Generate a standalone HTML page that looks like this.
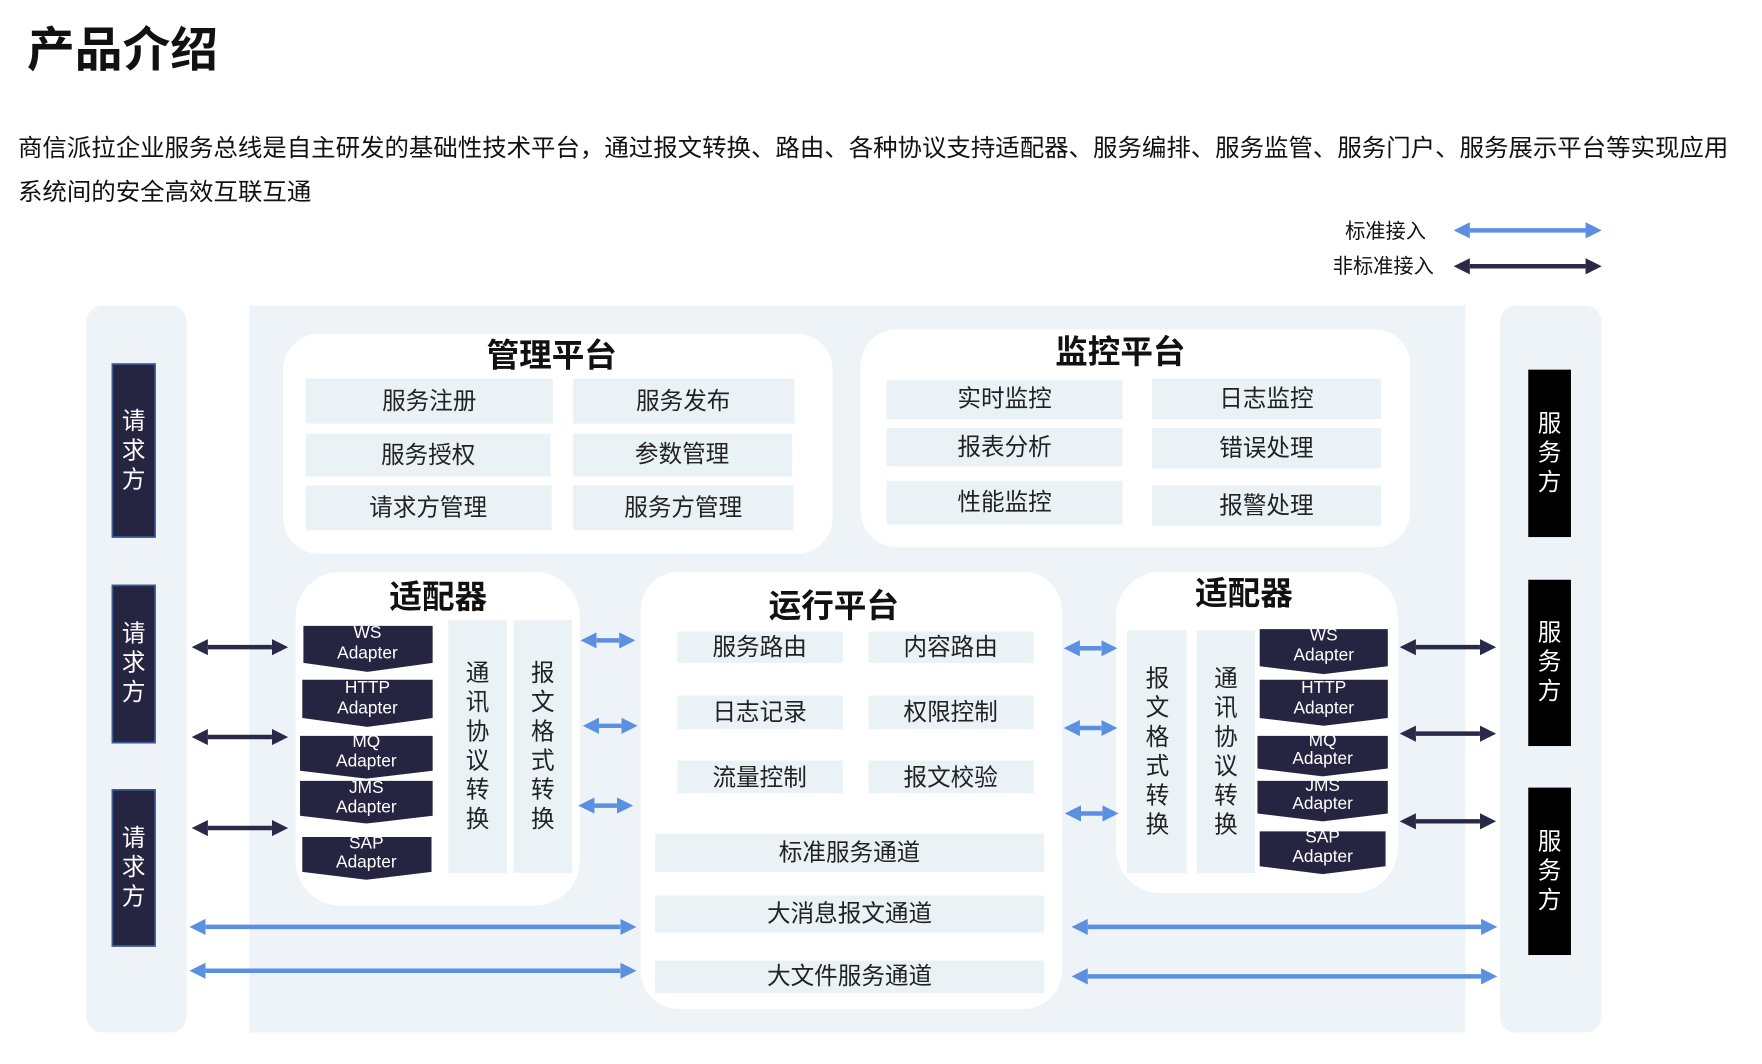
<!DOCTYPE html>
<html><head><meta charset="utf-8">
<style>
html,body{margin:0;padding:0;background:#fff;}
svg{display:block;font-family:"Liberation Sans","Noto Sans CJK SC",sans-serif;}
</style></head>
<body>
<svg width="1762" height="1064" viewBox="0 0 1568 947" preserveAspectRatio="none" xmlns="http://www.w3.org/2000/svg">
<defs>
<marker id="hb" viewBox="0 0 10 10" refX="0" refY="5" markerWidth="3.6" markerHeight="4.2" orient="auto-start-reverse" markerUnits="strokeWidth"><path d="M0,0 L10,5 L0,10 z" fill="#5b8fe0"/></marker>
<marker id="hd" viewBox="0 0 10 10" refX="0" refY="5" markerWidth="3.6" markerHeight="4.2" orient="auto-start-reverse" markerUnits="strokeWidth"><path d="M0,0 L10,5 L0,10 z" fill="#2a2a48"/></marker>
</defs>
<g fill="#111">
<text x="24" y="59" font-size="42.5" font-weight="bold">产品介绍</text>
<text x="16" y="139" font-size="21.5" textLength="1522" lengthAdjust="spacingAndGlyphs">商信派拉企业服务总线是自主研发的基础性技术平台，通过报文转换、路由、各种协议支持适配器、服务编排、服务监管、服务门户、服务展示平台等实现应用</text>
<text x="16" y="178" font-size="21.5" textLength="261" lengthAdjust="spacingAndGlyphs">系统间的安全高效互联互通</text>
<text x="1197" y="212" font-size="18">标准接入</text>
<text x="1186" y="243" font-size="18">非标准接入</text>
</g>
<line x1="1308" y1="205" x2="1411" y2="205" stroke="#5b8fe0" stroke-width="4" marker-start="url(#hb)" marker-end="url(#hb)"/>
<line x1="1308" y1="237" x2="1411" y2="237" stroke="#2a2a48" stroke-width="4" marker-start="url(#hd)" marker-end="url(#hd)"/>

<rect x="77" y="272" width="89" height="647" rx="14" fill="#edf3f7"/>
<rect x="222" y="272" width="1082" height="647" fill="#edf3f7"/>
<rect x="1335" y="272" width="90" height="647" rx="14" fill="#edf3f7"/>

<g fill="#262541" stroke="#3b5a9a" stroke-width="1.5">
<rect x="100" y="324" width="38" height="154"/>
<rect x="100" y="521" width="38" height="140"/>
<rect x="100" y="703" width="38" height="139"/>
</g>
<g fill="#fff" font-size="21" text-anchor="middle">
<text x="119" y="382">请</text><text x="119" y="408">求</text><text x="119" y="434">方</text>
<text x="119" y="571">请</text><text x="119" y="597">求</text><text x="119" y="623">方</text>
<text x="119" y="753">请</text><text x="119" y="779">求</text><text x="119" y="805">方</text>
</g>
<g fill="#000">
<rect x="1360" y="329" width="38" height="149"/>
<rect x="1360" y="516" width="38" height="148"/>
<rect x="1360" y="701" width="38" height="149"/>
</g>
<g fill="#fff" font-size="21" text-anchor="middle">
<text x="1379" y="384">服</text><text x="1379" y="410">务</text><text x="1379" y="436">方</text>
<text x="1379" y="570">服</text><text x="1379" y="596">务</text><text x="1379" y="622">方</text>
<text x="1379" y="756">服</text><text x="1379" y="782">务</text><text x="1379" y="808">方</text>
</g>

<g fill="#fff">
<rect x="252" y="297" width="489" height="196" rx="32"/>
<rect x="766" y="293" width="489" height="194" rx="32"/>
<rect x="263" y="509" width="253" height="297" rx="40"/>
<rect x="570" y="509" width="375" height="389" rx="34"/>
<rect x="993" y="509" width="251" height="286" rx="40"/>
</g>
<g fill="#111" font-size="29" font-weight="bold" text-anchor="middle">
<text x="491" y="326">管理平台</text>
<text x="997" y="323">监控平台</text>
<text x="390" y="541">适配器</text>
<text x="742" y="549">运行平台</text>
<text x="1107" y="538">适配器</text>
</g>

<g fill="#eaf2f6">
<rect x="272" y="337" width="220" height="40"/><rect x="510" y="337" width="197" height="40"/>
<rect x="272" y="386" width="218" height="38"/><rect x="510" y="386" width="195" height="38"/>
<rect x="272" y="432" width="219" height="40"/><rect x="510" y="432" width="196" height="40"/>
<rect x="789" y="338" width="210" height="35"/><rect x="1025" y="337" width="204" height="36"/>
<rect x="789" y="381" width="210" height="34"/><rect x="1025" y="381" width="204" height="36"/>
<rect x="789" y="428" width="210" height="39"/><rect x="1025" y="432" width="204" height="36"/>
<rect x="603" y="562" width="147" height="28"/><rect x="773" y="562" width="147" height="28"/>
<rect x="603" y="619" width="147" height="30"/><rect x="773" y="619" width="147" height="30"/>
<rect x="603" y="677" width="147" height="29"/><rect x="773" y="677" width="147" height="29"/>
<rect x="583" y="742" width="346" height="34"/>
<rect x="583" y="797" width="346" height="33"/>
<rect x="583" y="855" width="346" height="29"/>
<rect x="399" y="552" width="52" height="225"/><rect x="457" y="552" width="52" height="225"/>
<rect x="1003" y="561" width="53" height="216"/><rect x="1065" y="561" width="52" height="216"/>
</g>
<g fill="#222" font-size="21" text-anchor="middle">
<text x="382" y="364">服务注册</text><text x="608" y="364">服务发布</text>
<text x="381" y="412">服务授权</text><text x="607" y="411">参数管理</text>
<text x="381" y="459">请求方管理</text><text x="608" y="459">服务方管理</text>
<text x="894" y="362">实时监控</text><text x="1127" y="362">日志监控</text>
<text x="894" y="405">报表分析</text><text x="1127" y="406">错误处理</text>
<text x="894" y="454">性能监控</text><text x="1127" y="457">报警处理</text>
<text x="676" y="583">服务路由</text><text x="846" y="583">内容路由</text>
<text x="676" y="641">日志记录</text><text x="846" y="641">权限控制</text>
<text x="676" y="699">流量控制</text><text x="846" y="699">报文校验</text>
<text x="756" y="766">标准服务通道</text>
<text x="756" y="820">大消息报文通道</text>
<text x="756" y="876">大文件服务通道</text>
</g>
<g fill="#222" font-size="21" text-anchor="middle">
<text x="425" y="606">通</text><text x="425" y="632">讯</text><text x="425" y="658">协</text><text x="425" y="684">议</text><text x="425" y="710">转</text><text x="425" y="736">换</text>
<text x="483" y="606">报</text><text x="483" y="632">文</text><text x="483" y="658">格</text><text x="483" y="684">式</text><text x="483" y="710">转</text><text x="483" y="736">换</text>
<text x="1030" y="611">报</text><text x="1030" y="637">文</text><text x="1030" y="663">格</text><text x="1030" y="689">式</text><text x="1030" y="715">转</text><text x="1030" y="741">换</text>
<text x="1091" y="611">通</text><text x="1091" y="637">讯</text><text x="1091" y="663">协</text><text x="1091" y="689">议</text><text x="1091" y="715">转</text><text x="1091" y="741">换</text>
</g>

<g fill="#262541">
<polygon points="270,557 385,557 385,590 327,598 270,590"/>
<polygon points="269,605 385,605 385,639 327,647 269,639"/>
<polygon points="267,655 385,655 385,686 326,693 267,686"/>
<polygon points="267,695 385,695 385,726 326,733 267,726"/>
<polygon points="269,745 384,745 384,776 326,783 269,776"/>
<polygon points="1121,560 1235,560 1235,593 1178,600 1121,593"/>
<polygon points="1121,605 1235,605 1235,639 1178,646 1121,639"/>
<polygon points="1119,655 1235,655 1235,684 1177,691 1119,684"/>
<polygon points="1119,695 1235,695 1235,724 1177,731 1119,724"/>
<polygon points="1121,740 1233,740 1233,771 1177,778 1121,771"/>
</g>
<g fill="#fff" font-size="15.4" text-anchor="middle">
<text x="327" y="568">WS</text><text x="327" y="586">Adapter</text>
<text x="327" y="617">HTTP</text><text x="327" y="635">Adapter</text>
<text x="326" y="665">MQ</text><text x="326" y="682">Adapter</text>
<text x="326" y="706">JMS</text><text x="326" y="723">Adapter</text>
<text x="326" y="755">SAP</text><text x="326" y="772">Adapter</text>
<text x="1178" y="570">WS</text><text x="1178" y="588">Adapter</text>
<text x="1178" y="617">HTTP</text><text x="1178" y="635">Adapter</text>
<text x="1177" y="664">MQ</text><text x="1177" y="680">Adapter</text>
<text x="1177" y="704">JMS</text><text x="1177" y="720">Adapter</text>
<text x="1177" y="750">SAP</text><text x="1177" y="767">Adapter</text>
</g>

<g stroke="#2a2a48" stroke-width="4" marker-start="url(#hd)" marker-end="url(#hd)">
<line x1="185" y1="576" x2="242" y2="576"/>
<line x1="185" y1="656" x2="242" y2="656"/>
<line x1="185" y1="737" x2="242" y2="737"/>
<line x1="1260" y1="576" x2="1317" y2="576"/>
<line x1="1260" y1="653" x2="1317" y2="653"/>
<line x1="1260" y1="731" x2="1317" y2="731"/>
</g>
<g stroke="#5b8fe0" stroke-width="4" marker-start="url(#hb)" marker-end="url(#hb)">
<line x1="531" y1="570" x2="551" y2="570"/>
<line x1="533" y1="646" x2="553" y2="646"/>
<line x1="529" y1="717" x2="549" y2="717"/>
<line x1="961" y1="577" x2="980" y2="577"/>
<line x1="961" y1="648" x2="980" y2="648"/>
<line x1="962" y1="724" x2="981" y2="724"/>
<line x1="183" y1="825" x2="552" y2="825"/>
<line x1="183" y1="864" x2="552" y2="864"/>
<line x1="968" y1="825" x2="1318" y2="825"/>
<line x1="968" y1="869" x2="1318" y2="869"/>
</g>
</svg>
</body></html>
